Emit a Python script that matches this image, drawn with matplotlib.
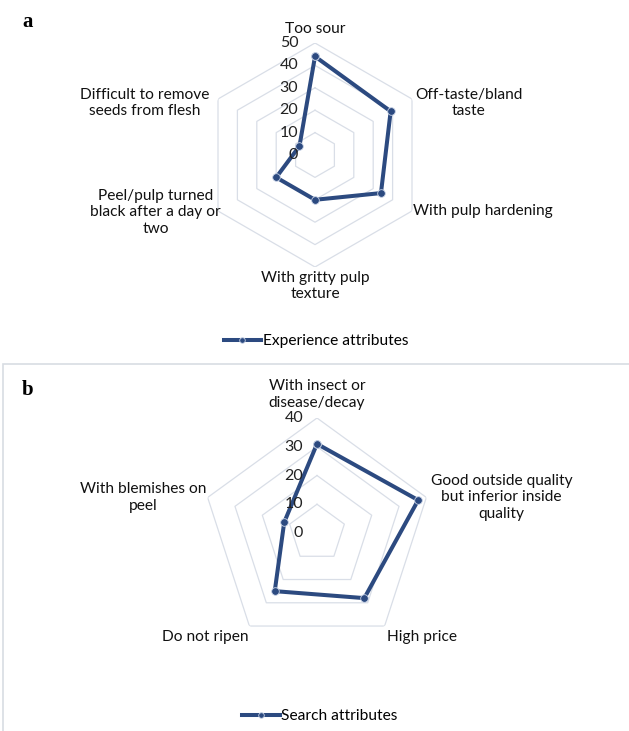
import numpy as np
import matplotlib
matplotlib.use("Agg")
import matplotlib.pyplot as plt
from matplotlib.patches import Rectangle

# ---- data ----
cats_a = ["Too sour", "Off-taste/bland\ntaste", "With pulp hardening",
          "With gritty pulp\ntexture", "Peel/pulp turned\nblack after a day or\ntwo",
          "Difficult to remove\nseeds from flesh"]
vals_a = [44, 39, 34, 20, 20, 8]
ticks_a = [0, 10, 20, 30, 40, 50]
legend_a = "Experience attributes"

cats_b = ["With insect or\ndisease/decay", "Good outside quality\nbut inferior inside\nquality",
          "High price", "Do not ripen", "With blemishes on\npeel"]
vals_b = [31, 37, 28, 25, 12]
ticks_b = [0, 10, 20, 30, 40]
legend_b = "Search attributes"

LINE = "#2C4A80"
GRID = "#D9DEE7"
FONT = "Lato"
LFS = 11.2

W, H = 629, 731
fig = plt.figure(figsize=(W / 100, H / 100), dpi=100)
fig.patch.set_facecolor("white")


def make_axes(cx, cy, rad):
    return fig.add_axes([(cx - rad) / W, (H - (cy + rad)) / H, 2 * rad / W, 2 * rad / H],
                        projection="polar")


def radar(ax, cats, vals, ticks, label_specs, tick_dx):
    n = len(cats)
    theta = np.arange(n) * 2 * np.pi / n
    ax.set_theta_zero_location("N")
    ax.set_theta_direction(-1)
    ax.set_ylim(0, ticks[-1])
    ax.grid(False)
    ax.spines["polar"].set_visible(False)
    ax.set_xticks([])
    ax.set_yticks([])
    ax.patch.set_alpha(0)
    tc = np.append(theta, theta[0])
    for t in ticks[1:]:
        ax.plot(tc, [t] * (n + 1), color=GRID, lw=0.9, zorder=1)
    for t in ticks:
        ax.annotate(str(t), xy=(0, t), xytext=(tick_dx, 0), textcoords="offset points",
                    ha="right", va="center", fontsize=11.5, family=FONT, color="#222222",
                    zorder=5, annotation_clip=False)
    v = list(vals) + [vals[0]]
    ax.plot(tc, v, color=LINE, lw=2.9, marker="o", ms=5.5, mfc=LINE, mec="#C9D3E6",
            mew=0.6, zorder=3, clip_on=False)
    for (c, th), (dx, dy, ha, va) in zip(zip(cats, theta), label_specs):
        ax.annotate(c, xy=(th, ticks[-1]), xytext=(dx, dy), textcoords="offset points",
                    ha=ha, va=va, multialignment="center", fontsize=LFS, family=FONT,
                    color="#111111", annotation_clip=False, linespacing=1.2)


# Panel a
ax_a = make_axes(315, 155, 112)
specs_a = [(0, 5, "center", "bottom"), (2, -3, "left", "center"), (1, 0, "left", "center"),
           (0, -3, "center", "top"), (2, -1, "right", "center"), (-6, -3, "right", "center")]
radar(ax_a, cats_a, vals_a, ticks_a, specs_a, -12)

# Panel b
ax_b = make_axes(317, 533, 115)
specs_b = [(0, 6, "center", "bottom"), (3, 0, "left", "center"), (2, -3, "left", "top"),
           (-1, -3, "right", "top"), (-1, 0, "right", "center")]
radar(ax_b, cats_b, vals_b, ticks_b, specs_b, -10)

# legends
for txt, x, y in [(legend_a, 316, 341), (legend_b, 320, 716)]:
    fig.legend(handles=[plt.Line2D([], [], color=LINE, lw=2.9, marker="o", ms=4,
                                   mfc=LINE, mec="#C9D3E6", mew=0.6)],
               labels=[txt], loc="center", bbox_to_anchor=(x / W, 1 - y / H),
               frameon=False, prop={"family": FONT, "size": 11.2}, handlelength=2.4,
               handletextpad=0.1)

# panel b border
fig.add_artist(Rectangle((3 / W, -0.05), 1.0, (H - 364) / H + 0.05, transform=fig.transFigure,
                         fill=False, edgecolor="#D8DDE3", lw=1.2))

# panel letters
fig.text(22 / W, 1 - 22 / H, "a", fontsize=15, fontweight="bold", family="Liberation Serif",
         ha="left", va="center")
fig.text(22 / W, 1 - 390 / H, "b", fontsize=15, fontweight="bold", family="Liberation Serif",
         ha="left", va="center")

fig.savefig("out.png", dpi=100)
